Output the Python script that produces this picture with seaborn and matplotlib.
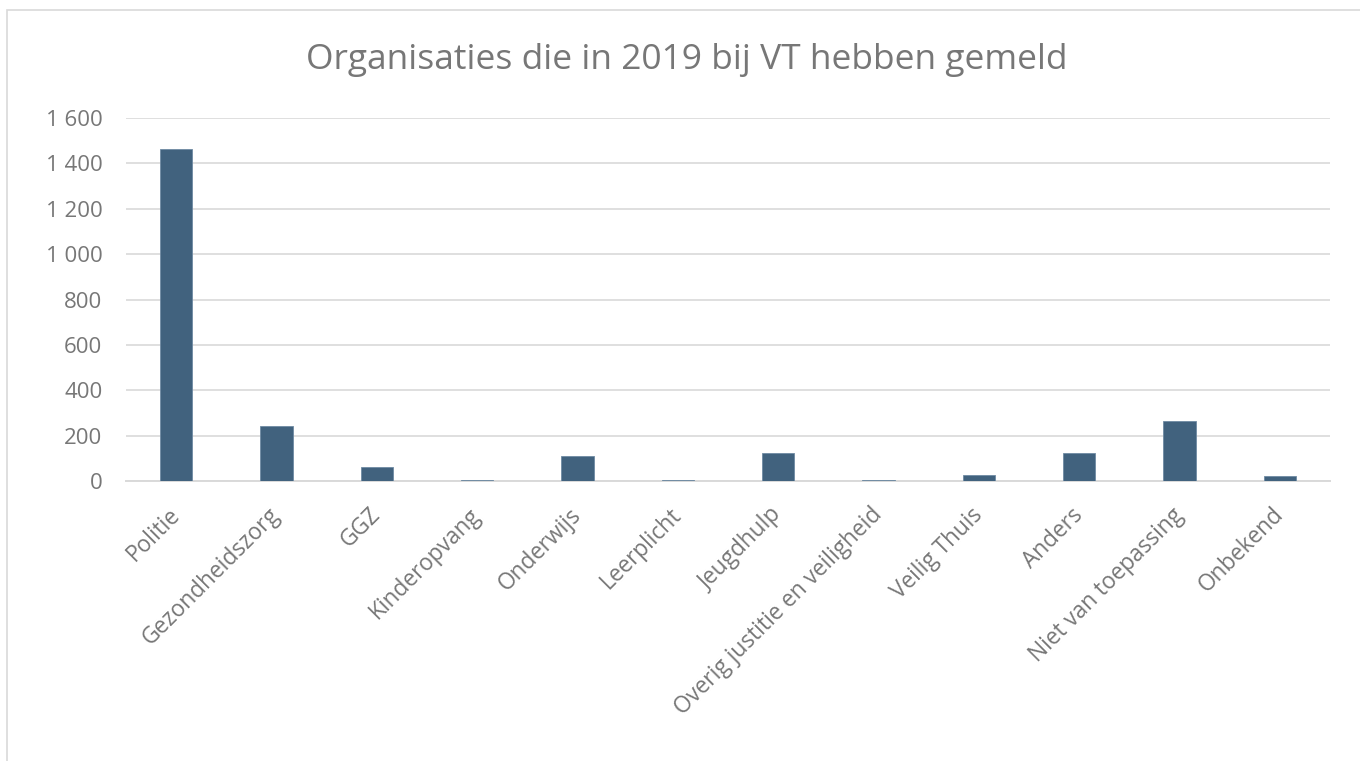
import matplotlib
matplotlib.use("Agg")
import matplotlib.pyplot as plt
import matplotlib.ticker as mticker
import matplotlib.patches as mpatches
import pandas as pd
import seaborn as sns

categories = ["Politie", "Gezondheidszorg", "GGZ", "Kinderopvang", "Onderwijs",
              "Leerplicht", "Jeugdhulp", "Overig justitie en veiligheid",
              "Veilig Thuis", "Anders", "Niet van toepassing", "Onbekend"]
values = [1462, 242, 62, 5, 111, 5, 122, 4, 26, 122, 264, 21]
yticks = [0, 200, 400, 600, 800, 1000, 1200, 1400, 1600]

df = pd.DataFrame({"cat": categories, "n": values})

sns.set_theme(style="white")
plt.rcParams["font.family"] = ["Open Sans", "DejaVu Sans"]

fig = plt.figure(figsize=(13.6, 7.61), dpi=100)
ax = fig.add_axes([126 / 1360, 1 - 481 / 761, 1204 / 1360, 363 / 761])

sns.barplot(data=df, x="cat", y="n", color="#41627E", width=0.32,
            saturation=1, edgecolor="#6F8AA3", linewidth=0.6, ax=ax, zorder=3)

ax.set_ylim(0, 1600)
ax.set_xlim(-0.5, len(categories) - 0.5)
ax.set_yticks(yticks)
ax.yaxis.set_major_formatter(mticker.FuncFormatter(lambda v, p: f"{int(v):,}".replace(",", " ")))
ax.grid(axis="y", color="#D9D9D9", linewidth=1.2, zorder=0)
for s in ["top", "right", "left"]:
    ax.spines[s].set_visible(False)
ax.spines["bottom"].set_color("#D9D9D9")
ax.spines["bottom"].set_linewidth(1.4)
ax.set_xlabel("")
ax.set_ylabel("")
ax.tick_params(axis="y", length=0, labelsize=16, labelcolor="#777777", pad=17)
ax.tick_params(axis="x", length=0, labelsize=16.3, labelcolor="#777777", pad=22)
plt.setp(ax.get_xticklabels(), rotation=45, ha="right", va="center",
         rotation_mode="anchor")

fig.text(0.505, 1 - 60 / 761, "Organisaties die in 2019 bij VT hebben gemeld",
         ha="center", va="center", fontsize=25.5, color="#777777")

fig.patches.append(mpatches.Rectangle((7 / 1360, -0.1), 1.2, 1 - 10 / 761 + 0.1,
                                      transform=fig.transFigure, fill=False,
                                      edgecolor="#D9D9D9", linewidth=1.2))

fig.savefig("out.png", dpi=100, facecolor="white")
